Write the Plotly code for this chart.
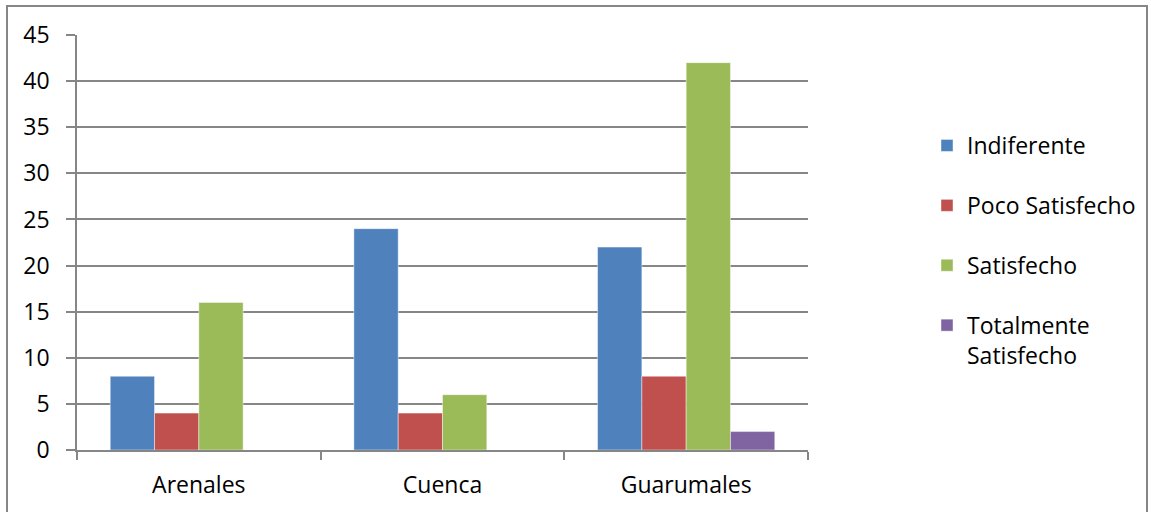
import plotly.graph_objects as go

categories = ["Arenales", "Cuenca", "Guarumales"]
series_names = ["Indiferente", "Poco Satisfecho", "Satisfecho", "Totalmente<br>Satisfecho"]
indiferente = [8, 24, 22]
poco_satisfecho = [4, 4, 8]
satisfecho = [16, 6, 42]
totalmente_satisfecho = [0, 0, 2]
y_ticks = [0, 5, 10, 15, 20, 25, 30, 35, 40, 45]

colors = ["#4F81BD", "#C0504D", "#9BBB59", "#8064A2"]
values = [indiferente, poco_satisfecho, satisfecho, totalmente_satisfecho]

FONT = "Open Sans"
FS = 23
GRID = "#868686"

fig = go.Figure()
for i, (name, vals) in enumerate(zip(series_names, values)):
    fig.add_trace(go.Bar(
        x=categories, y=vals, name=name,
        marker=dict(color=colors[i], line=dict(color="rgba(255,255,255,0.55)", width=0.8)),
        legendgroup=f"g{i}",
    ))

W, H = 1151, 512
L, R, T, B = 77, 343, 35, 62
pw = W - L - R
ph = H - T - B

def px_x(x):
    return (x - L) / pw

def px_y(y):
    return (H - B - y) / ph

fig.update_layout(
    width=W, height=H,
    margin=dict(l=L, r=R, t=T, b=B, pad=0, autoexpand=False),
    paper_bgcolor="white", plot_bgcolor="white",
    barmode="group", bargap=1.5 / 5.5, bargroupgap=0,
    font=dict(family=FONT, size=FS, color="black"),
    showlegend=True,
    legend=dict(
        x=px_x(927), y=px_y(124), xanchor="left", yanchor="top",
        font=dict(family=FONT, size=FS, color="black"),
        traceorder="grouped", tracegroupgap=27, valign="top",
        bgcolor="rgba(0,0,0,0)",
    ),
    xaxis=dict(
        type="category", showgrid=False, showline=True, linecolor=GRID, linewidth=1.5,
        ticks="outside", tickson="boundaries", ticklen=8, tickcolor=GRID, tickwidth=1.5,
        tickfont=dict(family=FONT, size=FS, color="black"), ticklabelstandoff=14,
    ),
    yaxis=dict(
        range=[0, 45], tickvals=y_ticks, showgrid=True, gridcolor=GRID, gridwidth=1.5,
        showline=True, linecolor=GRID, linewidth=1.5, zeroline=False,
        ticks="outside", ticklen=9, tickcolor=GRID, tickwidth=1.5,
        tickfont=dict(family=FONT, size=FS, color="black"), ticklabelstandoff=12,
    ),
    shapes=[dict(
        type="rect", xref="paper", yref="paper",
        x0=px_x(7), x1=px_x(1147), y0=px_y(530), y1=px_y(6),
        line=dict(color=GRID, width=2), fillcolor="rgba(0,0,0,0)", layer="below",
    )],
)

fig.write_html("out.html")
